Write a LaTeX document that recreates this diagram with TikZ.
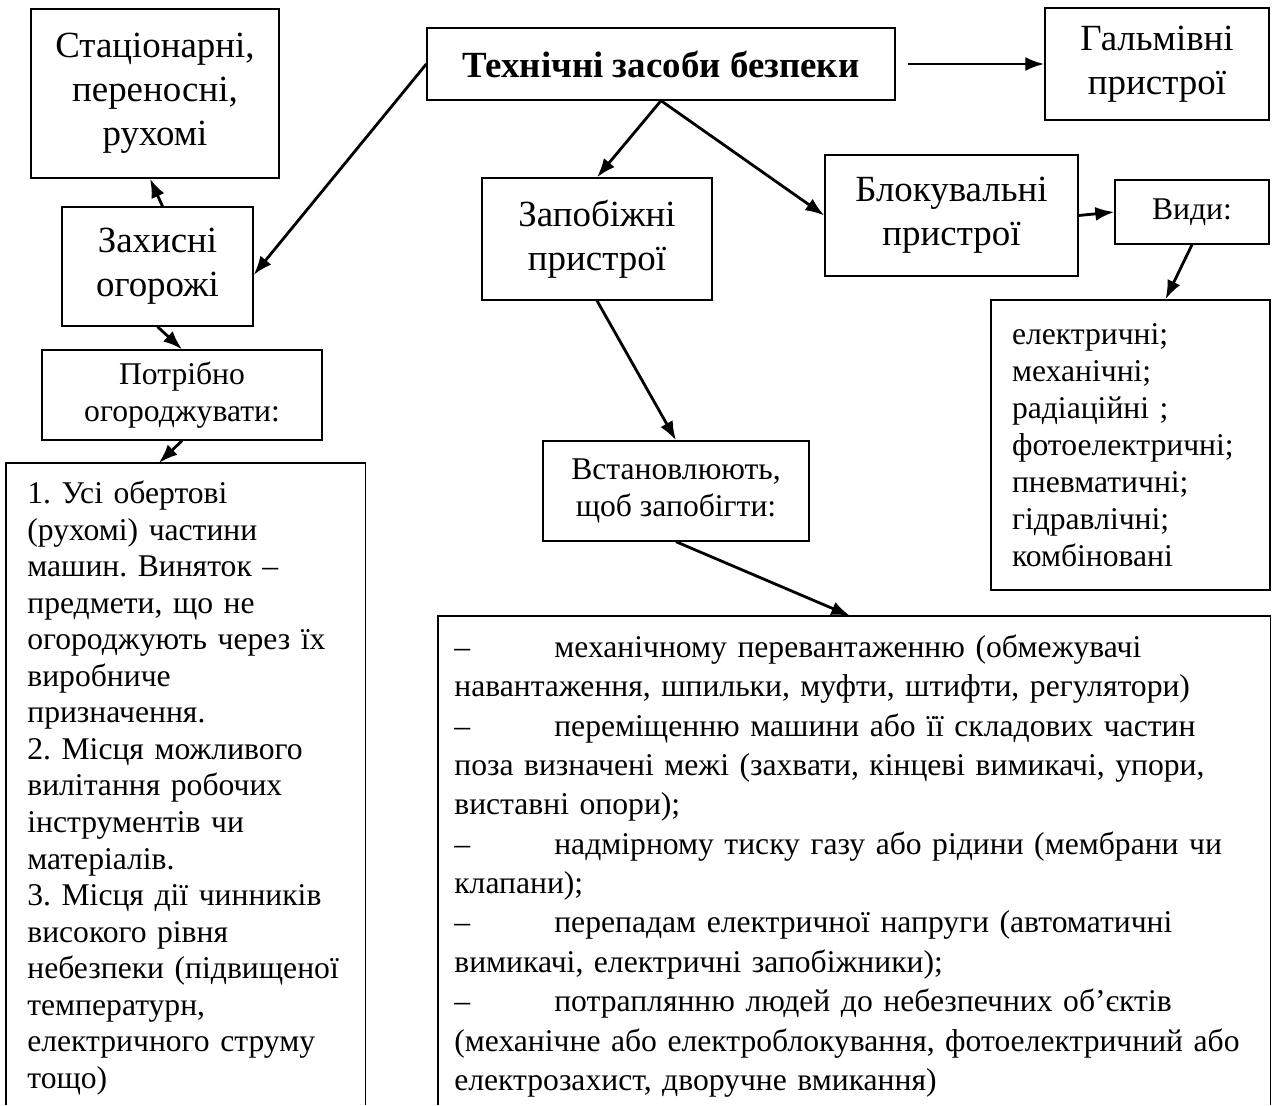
\documentclass[tikz,border=0pt]{standalone}
\usepackage{fontspec}
\setmainfont{Liberation Serif}
\usetikzlibrary{arrows.meta,calc}
\frenchspacing

\begin{document}
\begin{tikzpicture}[x=0.02cm, y=-0.02cm,
    blok/.style={draw, rectangle, line width=0.8pt, inner sep=0pt, align=center, font=\fontsize{21}{25}\selectfont},
    malyi/.style={blok, font=\fontsize{18}{21}\selectfont},
    strilka/.style={-{Latex[length=0.38cm,width=0.28cm]}, line width=1.6pt}]
    \useasboundingbox (0,0) rectangle (1277,1105);
    \coordinate (niz) at (0,1105);

    % top row
    \node[blok, minimum width=4.96cm, minimum height=3.38cm] (stac) at (155,93.5) {Стаціонарні,\\переносні,\\рухомі};
    \node[blok, minimum width=9.36cm, minimum height=1.44cm, font=\fontsize{21}{25}\selectfont\bfseries] (tekh) at (661,64) {Технічні засоби безпеки};
    \node[blok, minimum width=4.48cm, minimum height=2.24cm] (galm) at (1157,64) {Гальмівні\\пристрої};

    % second row
    \node[blok, minimum width=3.82cm, minimum height=2.38cm] (zakh) at (157.5,266.5) {Захисні\\огорожі};
    \node[blok, minimum width=4.6cm, minimum height=2.44cm] (zapob) at (597,239) {Запобіжні\\пристрої};
    \node[blok, minimum width=5.06cm, minimum height=2.42cm] (blokuv) at (951.5,215.5) {Блокувальні\\пристрої};
    \node[malyi, minimum width=3.08cm, minimum height=1.28cm] (vydy) at (1192,212) {Види:};

    % lists
    \node[malyi, minimum width=5.6cm, minimum height=1.8cm] (potr) at (182,395) {Потрібно\\огороджувати:};
    \node[malyi, minimum width=5.32cm, minimum height=2cm] (vstan) at (676,491) {Встановлюють,\\щоб запобігти:};
    \node[malyi, minimum width=5.58cm, minimum height=5.8cm, text width=4.74cm, align=left] (typy) at (1130.5,445)
        {електричні;\\механічні;\\радіаційні ;\\фотоелектричні;\\пневматичні;\\гідравлічні;\\комбіновані};

    \node[anchor=north west, inner xsep=0.42cm, inner ysep=10pt, text width=6.34cm, align=left,
        font=\fontsize{18}{20.8}\selectfont] (spys) at (6,463)
        {1. Усі обертові\\(рухомі) частини\\машин. Виняток –\\предмети, що не\\огороджують через їх\\виробниче\\призначення.\\
         2. Місця можливого\\вилітання робочих\\інструментів чи\\матеріалів.\\
         3. Місця дії чинників\\високого рівня\\небезпеки (підвищеної\\температурн,\\електричного струму\\тощо)};
    \node[anchor=north west, inner xsep=0.32cm, inner ysep=10.5pt, text width=16cm, align=left,
        font=\fontsize{18}{22.4}\selectfont] (zasoby) at (438,616)
        {\makebox[2cm][l]{–}механічному перевантаженню (обмежувачі\\
         навантаження, шпильки, муфти, штифти, регулятори)\\
         \makebox[2cm][l]{–}переміщенню машини або її складових частин\\
         поза визначені межі (захвати, кінцеві вимикачі, упори,\\
         виставні опори);\\
         \makebox[2cm][l]{–}надмірному тиску газу або рідини (мембрани чи\\
         клапани);\\
         \makebox[2cm][l]{–}перепадам електричної напруги (автоматичні\\
         вимикачі, електричні запобіжники);\\
         \makebox[2cm][l]{–}потраплянню людей до небезпечних об’єктів\\
         (механічне або електроблокування, фотоелектричний або\\
         електрозахист, дворучне вмикання)};
    \draw[line width=0.8pt] (spys.north west |- niz) -- (spys.north west) -- (spys.north east) -- (spys.north east |- niz);
    \draw[line width=0.8pt] (zasoby.north west |- niz) -- (zasoby.north west) -- (zasoby.north east) -- (zasoby.north east |- niz);

    % arrows
    \draw[strilka] (tekh.west) -- (zakh.-5);
    \draw[strilka] ($(zakh.north)+(5,0)$) -- ($(stac.south)+(-5,0)$);
    \draw[strilka] (zakh.south) -- (potr.north);
    \draw[strilka] (potr.south) -- ($(spys.north)+(-27,0)$);
    \draw[strilka] (tekh.south) -- (zapob.north);
    \draw[strilka] (tekh.south) -- (blokuv.west);
    \draw[strilka] ($(tekh.east)+(12,0)$) -- (galm.west);
    \draw[strilka] (blokuv.east) -- (vydy.west);
    \draw[strilka] (vydy.south) -- ($(typy.north)+(35,0)$);
    \draw[strilka] (zapob.south) -- (vstan.north);
    \draw[strilka] (vstan.south) -- ($(zasoby.north)+(-4,0)$);
\end{tikzpicture}
\end{document}
